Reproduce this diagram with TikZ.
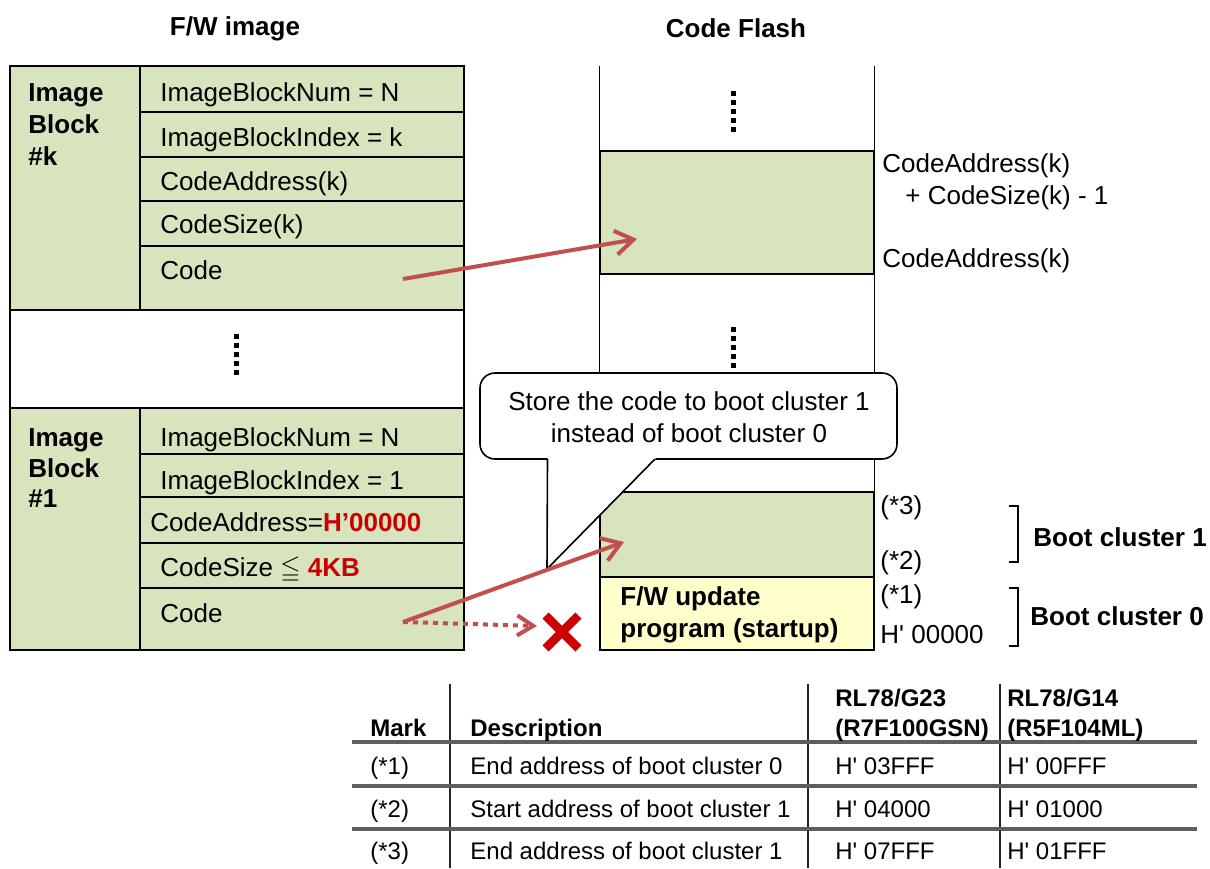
\documentclass[tikz,border=0pt]{standalone}
\usepackage{fontspec}
\setmainfont{Liberation Sans}
\usepackage{amssymb}
\usetikzlibrary{arrows.meta,fit}
\definecolor{cellgreen}{RGB}{215,228,189}
\definecolor{cellyellow}{RGB}{255,255,204}
\definecolor{arrowred}{RGB}{192,80,77}
\definecolor{xred}{RGB}{204,0,0}
\definecolor{txtred}{RGB}{204,0,0}
\definecolor{rulegray}{RGB}{95,95,95}
\newcommand\mainsz{\fontsize{13}{16}\selectfont}
\newcommand\tabsz{\fontsize{12}{15}\selectfont}
\newcommand\hq{H\textquotesingle}
\begin{document}
\begin{tikzpicture}[x=0.5pt,y=-0.5pt,
  cell/.style={draw=black, line width=0.8pt, inner sep=0pt, fill=cellgreen},
  ycell/.style={cell, fill=cellyellow},
  frame/.style={inner sep=0pt},
  txt/.style={anchor=west, inner sep=0pt, font=\mainsz, text height=9.3pt, text depth=0pt},
  btxt/.style={txt, font=\mainsz\bfseries},
  ctxt/.style={txt, anchor=center},
  ttxt/.style={anchor=west, inner sep=0pt, font=\tabsz, text height=8.6pt, text depth=0pt},
  thead/.style={ttxt, font=\tabsz\bfseries},
  redarrow/.style={draw=arrowred, line width=2pt, -{Straight Barb[length=9pt,width=12pt]}},
  reddots/.style={draw=arrowred, line width=2pt, dash pattern=on 2.5pt off 2.5pt, -{Straight Barb[length=8pt,width=10pt]}},
  vdots/.style={line width=2.5pt, dash pattern=on 2.5pt off 2pt},
  trule/.style={draw=rulegray, line width=1.6pt},
  tvline/.style={draw=black!85, line width=0.8pt}
]
\useasboundingbox (0,0) rectangle (1210,868);

% ---------- titles ----------
\node[ctxt, font=\mainsz\bfseries] (t-fw) at (235,26) {F/W image};
\node[ctxt, font=\mainsz\bfseries] (t-cf) at (736,28) {Code Flash};

% ---------- F/W image ----------
\node[frame, draw=black, line width=0.8pt, fit={(10,66)(464,650)}] (fw) {};
% block k
\node[cell, fit={(10,66)(140,310)}] (kname) {};
\node[cell, fit={(140,66)(464,112)}] (kr1) {};
\node[cell, fit={(140,112)(464,157)}] (kr2) {};
\node[cell, fit={(140,157)(464,201)}] (kr3) {};
\node[cell, fit={(140,201)(464,246)}] (kr4) {};
\node[cell, fit={(140,246)(464,310)}] (kr5) {};
\node[btxt] (kn1) at (28,92) {Image};
\node[btxt] (kn2) at (28,124) {Block};
\node[btxt] (kn3) at (28,156) {\#k};
\node[txt] (kt1) at (160,92) {ImageBlockNum = N};
\node[txt] (kt2) at (160,137) {ImageBlockIndex = k};
\node[txt] (kt3) at (160,181) {CodeAddress(k)};
\node[txt] (kt4) at (160,224) {CodeSize(k)};
\node[txt] (kt5) at (160,270) {Code};
% middle dots
\draw[vdots] (236,334) -- (236,377);
% block 1
\node[cell, fit={(10,408)(140,650)}] (oname) {};
\node[cell, fit={(140,408)(464,454)}] (or1) {};
\node[cell, fit={(140,454)(464,497)}] (or2) {};
\node[cell, fit={(140,497)(464,543)}] (or3) {};
\node[cell, fit={(140,543)(464,588)}] (or4) {};
\node[cell, fit={(140,588)(464,650)}] (or5) {};
\node[btxt] (on1) at (28,437) {Image};
\node[btxt] (on2) at (28,468) {Block};
\node[btxt] (on3) at (28,498) {\#1};
\node[txt] (ot1) at (160,437) {ImageBlockNum = N};
\node[txt] (ot2) at (160,480) {ImageBlockIndex = 1};
\node[txt] (ot3) at (150,522) {CodeAddress=\textcolor{txtred}{\bfseries H’00000}};
\node[txt] (ot4) at (160,567) {CodeSize $\leqq$ \textcolor{txtred}{\bfseries 4KB}};
\node[txt] (ot5) at (160,613) {Code};

% ---------- Code Flash ----------
\node[frame, fit={(600,66)(874,650)}] (flash) {};
\node[cell, fit={(600,151)(874,274)}] (fk) {};
\node[cell, fit={(600,492)(874,577)}] (fb1) {};
\node[ycell, fit={(600,577)(874,650)}] (fb0) {};
\draw[line width=0.8pt] (flash.north west) -- (flash.south west);
\draw[line width=0.8pt] (flash.north east) -- (flash.south east);
\draw[vdots] (733,91) -- (733,134);
\draw[vdots] (733,327) -- (733,370);
\node[btxt] (fb0a) at (620,596) {F/W update};
\node[btxt] (fb0b) at (620,628) {program (startup)};

% labels right of flash
\node[txt] (la1) at (882,163) {CodeAddress(k)};
\node[txt] (la2) at (905,195) {+ CodeSize(k) - 1};
\node[txt] (la3) at (882,258) {CodeAddress(k)};
\node[txt] (m3) at (880,505) {(*3)};
\node[txt] (m2) at (880,560) {(*2)};
\node[txt] (m1) at (880,594) {(*1)};
\node[txt] (h0) at (880,634) {\hq{} 00000};
\draw[line width=0.8pt] (1009,506) -- (1018,506) -- (1018,562) -- (1009,562);
\draw[line width=0.8pt] (1009,588) -- (1018,588) -- (1018,646) -- (1009,646);
\node[btxt] (bc1) at (1033,537) {Boot cluster 1};
\node[btxt] (bc0) at (1030,616) {Boot cluster 0};

% ---------- callout ----------
\node[frame, draw=black, line width=0.8pt, fill=white, rounded corners=7.5pt, fit={(480,373)(897,459)}] (callout) {};
\fill[white] (547.5,452) -- (547.5,569) -- (655,459) -- (662,452) -- cycle;
\coordinate (tail) at (547,569);
\draw[line width=0.8pt] (547.5,459) -- (tail) -- (655,459);
\node[ctxt] (co1) at (689,401) {Store the code to boot cluster 1};
\node[ctxt] (co2) at (689,433) {instead of boot cluster 0};

% ---------- arrows ----------
\coordinate (k-src) at (403,279);
\coordinate (k-dst) at (637,239);
\draw[redarrow] (k-src) -- (k-dst);
\coordinate (o-src) at (403,622);
\coordinate (o-dst) at (624,542);
\draw[redarrow] (o-src) -- (o-dst);
\node[inner sep=0pt, minimum size=16pt] (xmark) at (562,632) {};
\draw[xred, line width=4.4pt] (xmark.north west) -- (xmark.south east);
\draw[xred, line width=4.4pt] (xmark.north east) -- (xmark.south west);
\coordinate (d-dst) at (537,626);
\draw[reddots] (o-src) -- (d-dst);

% ---------- table ----------
\draw[tvline] (450,684) -- (450,868);
\draw[tvline] (808,684) -- (808,868);
\draw[tvline] (1000,684) -- (1000,868);
\draw[trule] (352,742) -- (1197,742);
\draw[trule] (352,786) -- (1197,786);
\draw[trule] (352,829) -- (1197,829);
\node[thead] (h-mark) at (370,728) {Mark};
\node[thead] (h-desc) at (470,728) {Description};
\node[thead] (h-g23a) at (835,698) {RL78/G23};
\node[thead] (h-g23b) at (835,728) {(R7F100GSN)};
\node[thead] (h-g14a) at (1007,698) {RL78/G14};
\node[thead] (h-g14b) at (1007,728) {(R5F104ML)};
\node[ttxt] (r1a) at (370,766) {(*1)};
\node[ttxt] (r1b) at (470,766) {End address of boot cluster 0};
\node[ttxt] (r1c) at (835,766) {\hq{} 03FFF};
\node[ttxt] (r1d) at (1007,766) {\hq{} 00FFF};
\node[ttxt] (r2a) at (370,809) {(*2)};
\node[ttxt] (r2b) at (470,809) {Start address of boot cluster 1};
\node[ttxt] (r2c) at (835,809) {\hq{} 04000};
\node[ttxt] (r2d) at (1007,809) {\hq{} 01000};
\node[ttxt] (r3a) at (370,851) {(*3)};
\node[ttxt] (r3b) at (470,851) {End address of boot cluster 1};
\node[ttxt] (r3c) at (835,851) {\hq{} 07FFF};
\node[ttxt] (r3d) at (1007,851) {\hq{} 01FFF};
\end{tikzpicture}
\end{document}
